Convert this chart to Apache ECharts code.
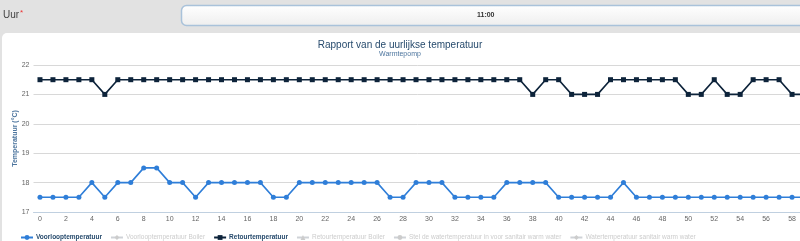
<!DOCTYPE html>
<html>
<head>
<meta charset="utf-8">
<script src="https://cdn.jsdelivr.net/npm/echarts@6/dist/echarts.min.js"></script>
<style>
html,body{margin:0;padding:0;background:#e2e2e2;}
#c{width:800px;height:241px;}
</style>
</head>
<body>
<div id="c"></div>
<script>
const hours = Array.from({length: 60}, (_, i) => String(i));
const voorloop = [17.5,17.5,17.5,17.5,18,17.5,18,18,18.5,18.5,18,18,17.5,18,18,18,18,18,17.5,17.5,
  18,18,18,18,18,18,18,17.5,17.5,18,18,18,17.5,17.5,17.5,17.5,18,18,18,18,
  17.5,17.5,17.5,17.5,17.5,18,17.5,17.5,17.5,17.5,17.5,17.5,17.5,17.5,17.5,17.5,17.5,17.5,17.5,17.5];
const retour = [21.5,21.5,21.5,21.5,21.5,21,21.5,21.5,21.5,21.5,21.5,21.5,21.5,21.5,21.5,21.5,21.5,21.5,21.5,21.5,
  21.5,21.5,21.5,21.5,21.5,21.5,21.5,21.5,21.5,21.5,21.5,21.5,21.5,21.5,21.5,21.5,21.5,21.5,21,21.5,
  21.5,21,21,21,21.5,21.5,21.5,21.5,21.5,21.5,21,21,21.5,21,21,21.5,21.5,21.5,21,21];
const seriesNames = ['Voorlooptemperatuur','Voorlooptemperatuur Boiler','Retourtemperatuur','Retourtemperatuur Boiler','Stel de watertemperatuur in voor sanitair warm water','Watertemperatuur sanitair warm water'];
const yMin = 17, yMax = 22, yStep = 1;

const font = '"Liberation Sans", Arial, sans-serif';
const chart = echarts.init(document.getElementById('c'), null, {renderer: 'canvas'});
const hiddenSymbols = ['diamond','triangle','circle','diamond'];
const hiddenColors = ['#8bbc21','#910000','#1aadce','#492970'];
const series = [
  {name: seriesNames[0], type: 'line', data: voorloop, color: '#2f7ed8', symbol: 'circle', symbolSize: 5,
   lineStyle: {width: 1.6}, itemStyle: {color: '#2f7ed8'}},
  {name: seriesNames[1], type: 'line', data: [], color: hiddenColors[0], symbol: hiddenSymbols[0]},
  {name: seriesNames[2], type: 'line', data: retour, color: '#0d233a', symbol: 'rect', symbolSize: 5,
   lineStyle: {width: 1.6}, itemStyle: {color: '#0d233a'}},
  {name: seriesNames[3], type: 'line', data: [], color: hiddenColors[1], symbol: hiddenSymbols[1]},
  {name: seriesNames[4], type: 'line', data: [], color: hiddenColors[2], symbol: hiddenSymbols[2]},
  {name: seriesNames[5], type: 'line', data: [], color: hiddenColors[3], symbol: hiddenSymbols[3]}
];
const selected = {};
seriesNames.forEach((n, i) => selected[n] = (i === 0 || i === 2));
const legendData = seriesNames.map((n, i) => (i === 0 || i === 2) ? n :
  {name: n, textStyle: {fontWeight: 'normal'}});

chart.setOption({
  animation: false,
  backgroundColor: 'transparent',
  graphic: [
    {type: 'rect', shape: {x: 2, y: 33, width: 810, height: 220, r: 5}, style: {fill: '#ffffff'}, z: -10},
    {type: 'rect', shape: {x: 181.5, y: 5.5, width: 640, height: 20, r: 5},
     style: {fill: new echarts.graphic.LinearGradient(0,0,0,1,[{offset:0,color:'#ffffff'},{offset:1,color:'#eeeeee'}]),
             stroke: '#a9c2da', lineWidth: 1.5}, z: -10},
    {type: 'text', left: 3, top: 10, style: {text: 'Uur', font: '10px ' + font, fill: '#444'}},
    {type: 'text', left: 20, top: 9, style: {text: '*', font: '8px ' + font, fill: '#e33'}},
    {type: 'text', left: 477, top: 12, style: {text: '11:00', font: 'bold 7px ' + font, fill: '#333'}}
  ],
  title: {
    text: 'Rapport van de uurlijkse temperatuur',
    subtext: 'Warmtepomp',
    left: 'center', top: 35, itemGap: 1,
    textStyle: {fontFamily: font, fontSize: 10, fontWeight: 'normal', color: '#274b6d'},
    subtextStyle: {fontFamily: font, fontSize: 7, color: '#4d759e'}
  },
  legend: {
    top: 229, left: 15, width: 790, itemGap: 8, itemWidth: 12, itemHeight: 6,
    orient: 'horizontal',
    selected: selected, inactiveColor: '#cccccc',
    textStyle: {fontFamily: font, fontSize: 6.5, fontWeight: 'bold', color: '#274b6d', padding: [0,0,0,-2]},
    data: legendData
  },
  grid: {left: 33.5, right: -11.5, top: 65, bottom: 29, outerBoundsMode: 'none', containLabel: false},
  xAxis: {
    type: 'category', data: hours, boundaryGap: true,
    axisLine: {lineStyle: {color: '#c0d0e0'}},
    axisTick: {interval: 1, length: 4, lineStyle: {color: '#c0d0e0'}},
    axisLabel: {interval: 1, color: '#666', fontFamily: font, fontSize: 7, margin: 4}
  },
  yAxis: {
    type: 'value', min: yMin, max: yMax, interval: yStep,
    name: 'Temperatuur (°C)', nameLocation: 'middle', nameGap: 15, nameRotate: 90,
    nameMoveOverlap: false,
    nameTextStyle: {fontFamily: font, fontSize: 7, fontWeight: 'bold', color: '#4d759e'},
    axisLine: {show: false}, axisTick: {show: false},
    splitLine: {lineStyle: {color: '#d8d8d8'}},
    axisLabel: {color: '#666', fontFamily: font, fontSize: 7, margin: 4}
  },
  series: series
});
</script>
</body>
</html>
